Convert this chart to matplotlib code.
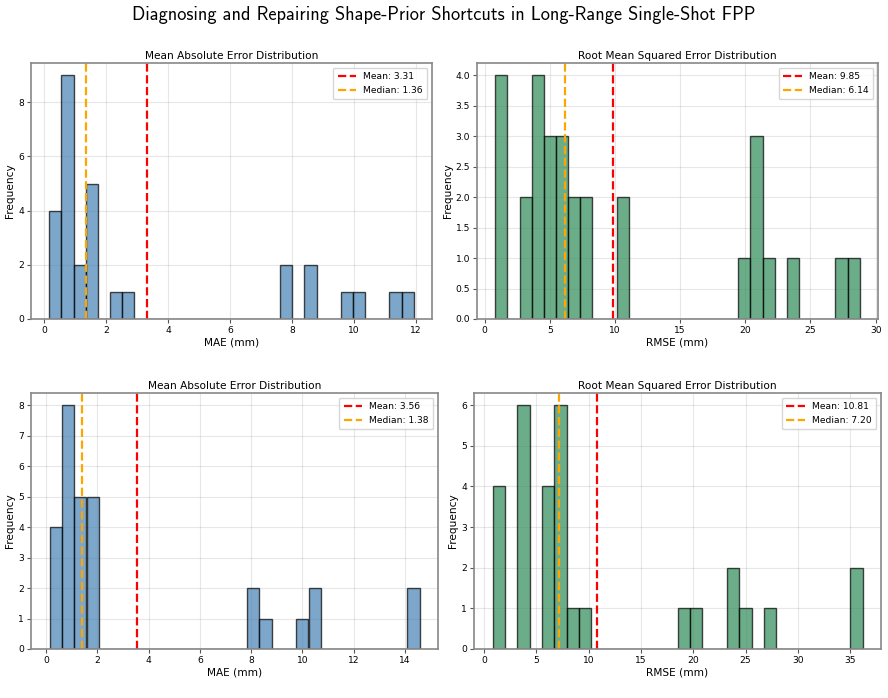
import matplotlib
matplotlib.use("Agg")
import matplotlib.pyplot as plt
import numpy as np

# ---- data ----
mae_top = [0.16, 0.35, 0.45, 0.52,
           0.60, 0.65, 0.70, 0.75, 0.78, 0.82, 0.85, 0.88, 0.92,
           1.10, 1.33,
           1.39, 1.45, 1.52, 1.60, 1.68,
           2.30, 2.70,
           7.75, 7.80, 8.55, 8.60,
           9.80, 10.05, 11.31, 11.94]
rmse_top = [0.82, 1.10, 1.35, 1.60,
            3.0, 3.4,
            3.8, 4.0, 4.2, 4.4,
            4.8, 5.0, 5.3,
            5.90, 6.10, 6.18,
            6.7, 7.0, 7.6, 8.0,
            10.5, 10.8,
            19.9, 20.6, 20.8, 21.1, 21.8,
            23.6, 27.4, 28.78]
mae_bot = [0.13, 0.30, 0.42, 0.55,
           0.63, 0.68, 0.72, 0.76, 0.80, 0.85, 0.90, 0.98,
           1.15, 1.28, 1.36, 1.40, 1.50,
           1.62, 1.66, 1.72, 1.80, 1.90,
           7.88, 8.00, 8.40,
           9.85, 10.30, 10.45,
           14.15, 14.57]
rmse_bot = [0.80, 1.20, 1.50, 1.80,
            3.30, 3.50, 3.70, 3.85, 4.00, 4.20,
            5.70, 6.00, 6.30, 6.55,
            7.10, 7.30, 7.45, 7.60, 7.70, 7.80,
            8.50, 9.40,
            18.80, 19.90,
            23.40, 23.80, 24.70,
            27.00, 35.20, 36.18]

suptitle = "Diagnosing and Repairing Shape-Prior Shortcuts in Long-Range Single-Shot FPP"
panels = [
    (mae_top, "steelblue", "Mean Absolute Error Distribution", "MAE (mm)"),
    (rmse_top, "seagreen", "Root Mean Squared Error Distribution", "RMSE (mm)"),
    (mae_bot, "steelblue", "Mean Absolute Error Distribution", "MAE (mm)"),
    (rmse_bot, "seagreen", "Root Mean Squared Error Distribution", "RMSE (mm)"),
]

W, H = 888, 698
fig = plt.figure(figsize=(W / 100, H / 100), dpi=100)

# axes boxes in pixels: left, right, top, bottom
boxes = [(31, 432, 63, 319), (477, 878, 63, 319),
         (31, 438, 393, 649), (474, 881, 393, 649)]

for (vals, color, title, xlabel), (l, r, t, b) in zip(panels, boxes):
    ax = fig.add_axes([l / W, 1 - b / H, (r - l) / W, (b - t) / H])
    ax.hist(vals, bins=30, color=color, alpha=0.7, edgecolor="black", linewidth=1.0)
    mean = np.mean(vals)
    med = np.median(vals)
    ax.axvline(mean, color="red", linestyle="--", linewidth=1.6, label=f"Mean: {mean:.2f}")
    ax.axvline(med, color="orange", linestyle="--", linewidth=1.6, label=f"Median: {med:.2f}")
    ax.set_title(title, fontsize=7.6, pad=3)
    ax.set_xlabel(xlabel, fontsize=7.6, labelpad=2)
    ax.set_ylabel("Frequency", fontsize=7.6, labelpad=2)
    ax.tick_params(labelsize=6.6, length=3, width=0.8, color="#555555", pad=2)
    ax.grid(True, alpha=0.3)
    ax.set_axisbelow(True)
    for s in ax.spines.values():
        s.set_color("#888888")
        s.set_linewidth(1.2)
    ax.legend(fontsize=6.6, loc="upper right", handlelength=2.0, borderpad=0.5,
              labelspacing=0.5, handletextpad=0.8)

fig.suptitle(suptitle, fontsize=13.2, y=0.992, va="top", family=["cmss10", "DejaVu Sans"])
fig.savefig("out.png", dpi=100)
